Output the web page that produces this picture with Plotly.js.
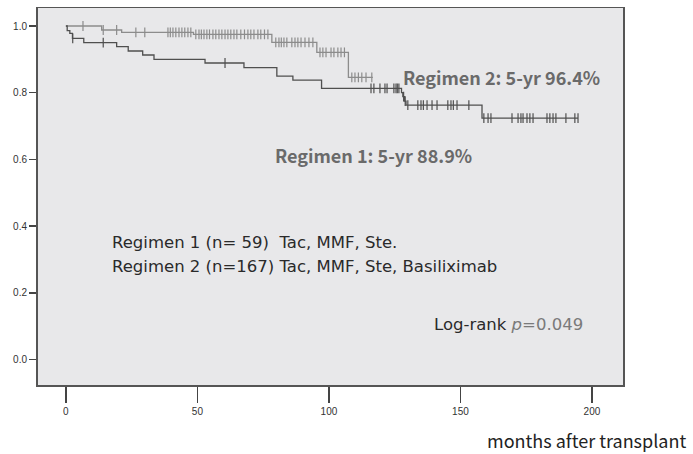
<!DOCTYPE html>
<html>
<head>
<meta charset="utf-8">
<script src="https://cdn.plot.ly/plotly-3.0.1.min.js"></script>
<style>html,body{margin:0;padding:0;background:#fff}#chart{width:693px;height:454px}</style>
</head>
<body>
<div id="chart"></div>
<script>
// Regimen 1 (n=59): Kaplan-Meier step times (months) and survival
const reg1Times = [0, 0.5, 1.5, 2.5, 6.8, 19.3, 23.7, 29.2, 33.5, 52.9, 67.7, 80.2, 86.3, 97.2, 127.6, 128.1, 128.7, 129.3, 158.2, 194.7];
const reg1Surv  = [1.0, 0.986, 0.978, 0.963, 0.950, 0.938, 0.925, 0.913, 0.900, 0.889, 0.875, 0.850, 0.838, 0.813, 0.800, 0.788, 0.775, 0.763, 0.724, 0.724];
const reg1Censor = [2.6, 14.2, 60.5, 116.0, 117.1, 119.4, 121.3, 122.1, 124.7, 125.5, 126.0, 126.6, 128.4, 129.0,
  130.0, 133.8, 135.0, 135.9, 137.3, 139.2, 141.1, 145.2, 146.4, 147.3, 148.7, 153.2,
  158.9, 160.5, 161.6, 169.6, 171.9, 173.0, 173.8, 175.3, 176.4, 177.6, 182.9, 184.0, 185.2, 186.3, 190.1, 193.5, 194.7];

// Regimen 2 (n=167)
const reg2Times = [0, 13.6, 21.2, 48.5, 78.3, 95.4, 107.4, 116.7];
const reg2Surv  = [1.0, 0.988, 0.981, 0.975, 0.951, 0.921, 0.846, 0.846];
const reg2Censor = [6.5, 14.2, 19.3, 26.6, 30.0, 38.8, 39.7, 40.7, 41.8, 43.0, 44.1, 45.2, 46.4, 47.5,
  49.4, 50.6, 51.5, 52.5, 53.6, 54.6, 55.9, 57.0, 58.2, 59.3, 60.5, 61.6, 62.7, 63.9, 65.0, 66.5, 67.9, 69.2, 70.3, 71.5, 73.0, 74.1, 75.5, 76.8,
  79.8, 81.0, 81.9, 82.9, 84.0, 85.9, 87.1, 88.2, 89.4, 90.9, 92.4, 93.9,
  96.6, 97.7, 98.9, 100.8, 101.9, 103.4, 104.6, 105.9,
  108.7, 109.9, 111.2, 112.5, 114.1, 116.3];

const xTicks = [0, 50, 100, 150, 200];
const yTicks = [0.0, 0.2, 0.4, 0.6, 0.8, 1.0];
const yTickText = ['0.0', '0.2', '0.4', '0.6', '0.8', '1.0'];
const xTitle = 'months after transplant';
const label2 = 'Regimen 2: 5-yr 96.4%';
const label1 = 'Regimen 1: 5-yr 88.9%';
const legendLine1 = 'Regimen 1 (n=&nbsp;59)&nbsp;&nbsp;Tac, MMF, Ste.';
const legendLine2 = 'Regimen 2 (n=167) Tac, MMF, Ste, Basiliximab';
const pText = 'Log-rank <span style="color:#7a7a7a"><i>p</i>=0.049</span>';

function survAt(times, surv, t) {
  let v = surv[0];
  for (let i = 0; i < times.length; i++) { if (times[i] <= t) v = surv[i]; }
  return v;
}

const c1 = '#4f4f4f', c2 = '#8c8c8c';
const traces = [
  {x: reg2Times, y: reg2Surv, mode: 'lines', line: {shape: 'hv', color: c2, width: 1.3}, hoverinfo: 'skip'},
  {x: reg2Censor, y: reg2Censor.map(t => survAt(reg2Times, reg2Surv, t)), mode: 'markers',
   marker: {symbol: 'line-ns-open', size: 7, color: c2, line: {color: c2, width: 1.2}}, hoverinfo: 'skip'},
  {x: reg1Times, y: reg1Surv, mode: 'lines', line: {shape: 'hv', color: c1, width: 1.3}, hoverinfo: 'skip'},
  {x: reg1Censor, y: reg1Censor.map(t => survAt(reg1Times, reg1Surv, t)), mode: 'markers',
   marker: {symbol: 'line-ns-open', size: 7, color: c1, line: {color: c1, width: 1.2}}, hoverinfo: 'skip'}
];

const jp = '"Noto Sans CJK JP", "Noto Sans", sans-serif';
const dv = '"DejaVu Sans", sans-serif';
const layout = {
  width: 693, height: 454,
  margin: {l: 38, r: 70, t: 8, b: 69},
  paper_bgcolor: '#ffffff',
  plot_bgcolor: '#e8e8ea',
  showlegend: false,
  xaxis: {
    range: [-10.6, 211.8], tickvals: xTicks, ticks: 'outside', ticklen: 16, tickwidth: 1.5, tickcolor: '#444',
    showgrid: false, zeroline: false, showline: true, mirror: true, linecolor: '#555', linewidth: 1.5,
    tickfont: {family: 'Liberation Sans, Arial, sans-serif', size: 10, color: '#333'}
  },
  yaxis: {
    range: [-0.0765, 1.054], tickvals: yTicks, ticktext: yTickText, ticks: 'outside', ticklen: 7, tickwidth: 1.5, tickcolor: '#444',
    showgrid: false, zeroline: false, showline: true, mirror: true, linecolor: '#555', linewidth: 2,
    tickfont: {family: 'Liberation Sans, Arial, sans-serif', size: 10, color: '#333'}
  },
  annotations: [
    {text: label2, x: 127.4, y: 0.847, xref: 'x', yref: 'y', xanchor: 'left', yanchor: 'middle', showarrow: false,
     font: {family: jp, size: 18, color: '#6a6a6a', weight: 'bold'}},
    {text: label1, x: 78.6, y: 0.613, xref: 'x', yref: 'y', xanchor: 'left', yanchor: 'middle', showarrow: false,
     font: {family: jp, size: 18, color: '#6a6a6a', weight: 'bold'}},
    {text: legendLine1, x: 16.7, y: 0.35, xref: 'x', yref: 'y', xanchor: 'left', yanchor: 'middle', showarrow: false,
     font: {family: dv, size: 16.5, color: '#2a2a2a'}},
    {text: legendLine2, x: 16.7, y: 0.279, xref: 'x', yref: 'y', xanchor: 'left', yanchor: 'middle', showarrow: false,
     font: {family: dv, size: 16.5, color: '#2a2a2a'}},
    {text: pText, x: 139.2, y: 0.106, xref: 'x', yref: 'y', xanchor: 'left', yanchor: 'middle', showarrow: false,
     font: {family: dv, size: 16.5, color: '#2a2a2a'}},
    {text: xTitle, x: 1.111, y: -0.146, xref: 'paper', yref: 'paper', xanchor: 'right', yanchor: 'middle', showarrow: false,
     font: {family: jp, size: 18, color: '#222'}}
  ]
};

Plotly.newPlot('chart', traces, layout, {displayModeBar: false, staticPlot: true});
</script>
</body>
</html>
